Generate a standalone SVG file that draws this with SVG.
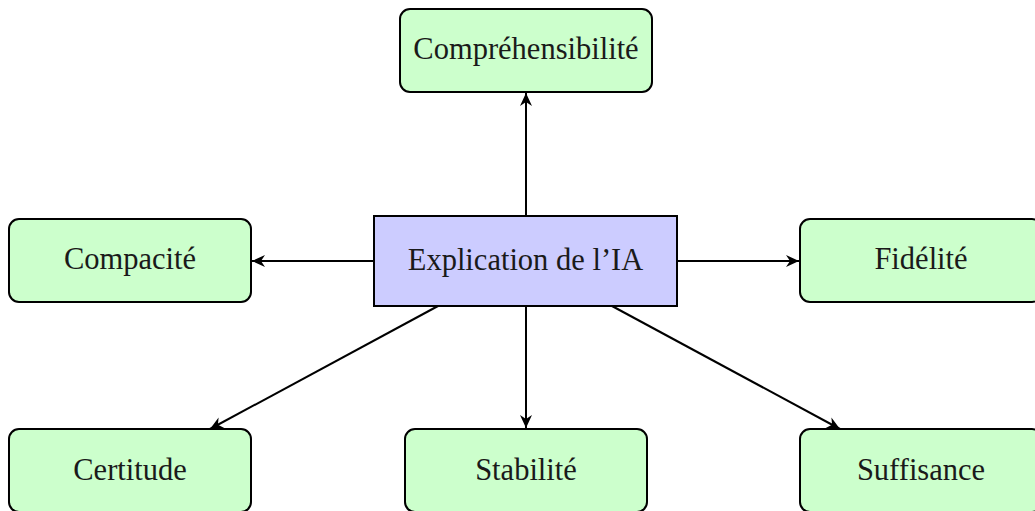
<svg xmlns="http://www.w3.org/2000/svg" width="1035" height="511" viewBox="0 0 1035 511">
  <defs>
    <marker id="head" viewBox="-14 -7 15 14" markerWidth="15" markerHeight="14" refX="0" refY="0" orient="auto" markerUnits="userSpaceOnUse">
      <path d="M0,0 L-13,-6 L-9,0 L-13,6 Z" fill="#000"/>
    </marker>
  </defs>
  <style>
    .leaf { fill: #ccffcc; stroke: #000; stroke-width: 2; }
    .root { fill: #ccccff; stroke: #000; stroke-width: 2; }
    .lbl { font-family: "Liberation Serif", "DejaVu Serif", serif; font-size: 30.5px; fill: #1a1a1a; text-anchor: middle; }
    .edge { stroke: #000; stroke-width: 2; fill: none; marker-end: url(#head); }
  </style>

  <!-- connectors from the central node -->
  <g id="connectors">
    <line class="edge" x1="526" y1="216" x2="526" y2="93"/>
    <line class="edge" x1="374" y1="261" x2="252" y2="261"/>
    <line class="edge" x1="677" y1="261" x2="799" y2="261"/>
    <line class="edge" x1="526" y1="306" x2="526" y2="428"/>
    <line class="edge" x1="438" y1="306" x2="210" y2="429"/>
    <line class="edge" x1="612" y1="306" x2="840" y2="429"/>
  </g>

  <g id="center">
    <rect class="root" x="374" y="216" width="303" height="90"/>
    <text class="lbl" x="525.5" y="270">Explication de l’IA</text>
  </g>

  <g id="comprehensibilite">
    <rect class="leaf" x="400" y="9" width="252" height="83" rx="10"/>
    <text class="lbl" x="526" y="59">Compréhensibilité</text>
  </g>

  <g id="compacite">
    <rect class="leaf" x="9" y="219" width="242" height="83" rx="10"/>
    <text class="lbl" x="130" y="269">Compacité</text>
  </g>

  <g id="fidelite">
    <rect class="leaf" x="800" y="219" width="242" height="83" rx="10"/>
    <text class="lbl" x="921" y="269">Fidélité</text>
  </g>

  <g id="certitude">
    <rect class="leaf" x="9" y="429" width="242" height="83" rx="10"/>
    <text class="lbl" x="130" y="480">Certitude</text>
  </g>

  <g id="stabilite">
    <rect class="leaf" x="405" y="429" width="242" height="83" rx="10"/>
    <text class="lbl" x="526" y="480">Stabilité</text>
  </g>

  <g id="suffisance">
    <rect class="leaf" x="800" y="429" width="242" height="83" rx="10"/>
    <text class="lbl" x="921" y="480">Suffisance</text>
  </g>
</svg>
